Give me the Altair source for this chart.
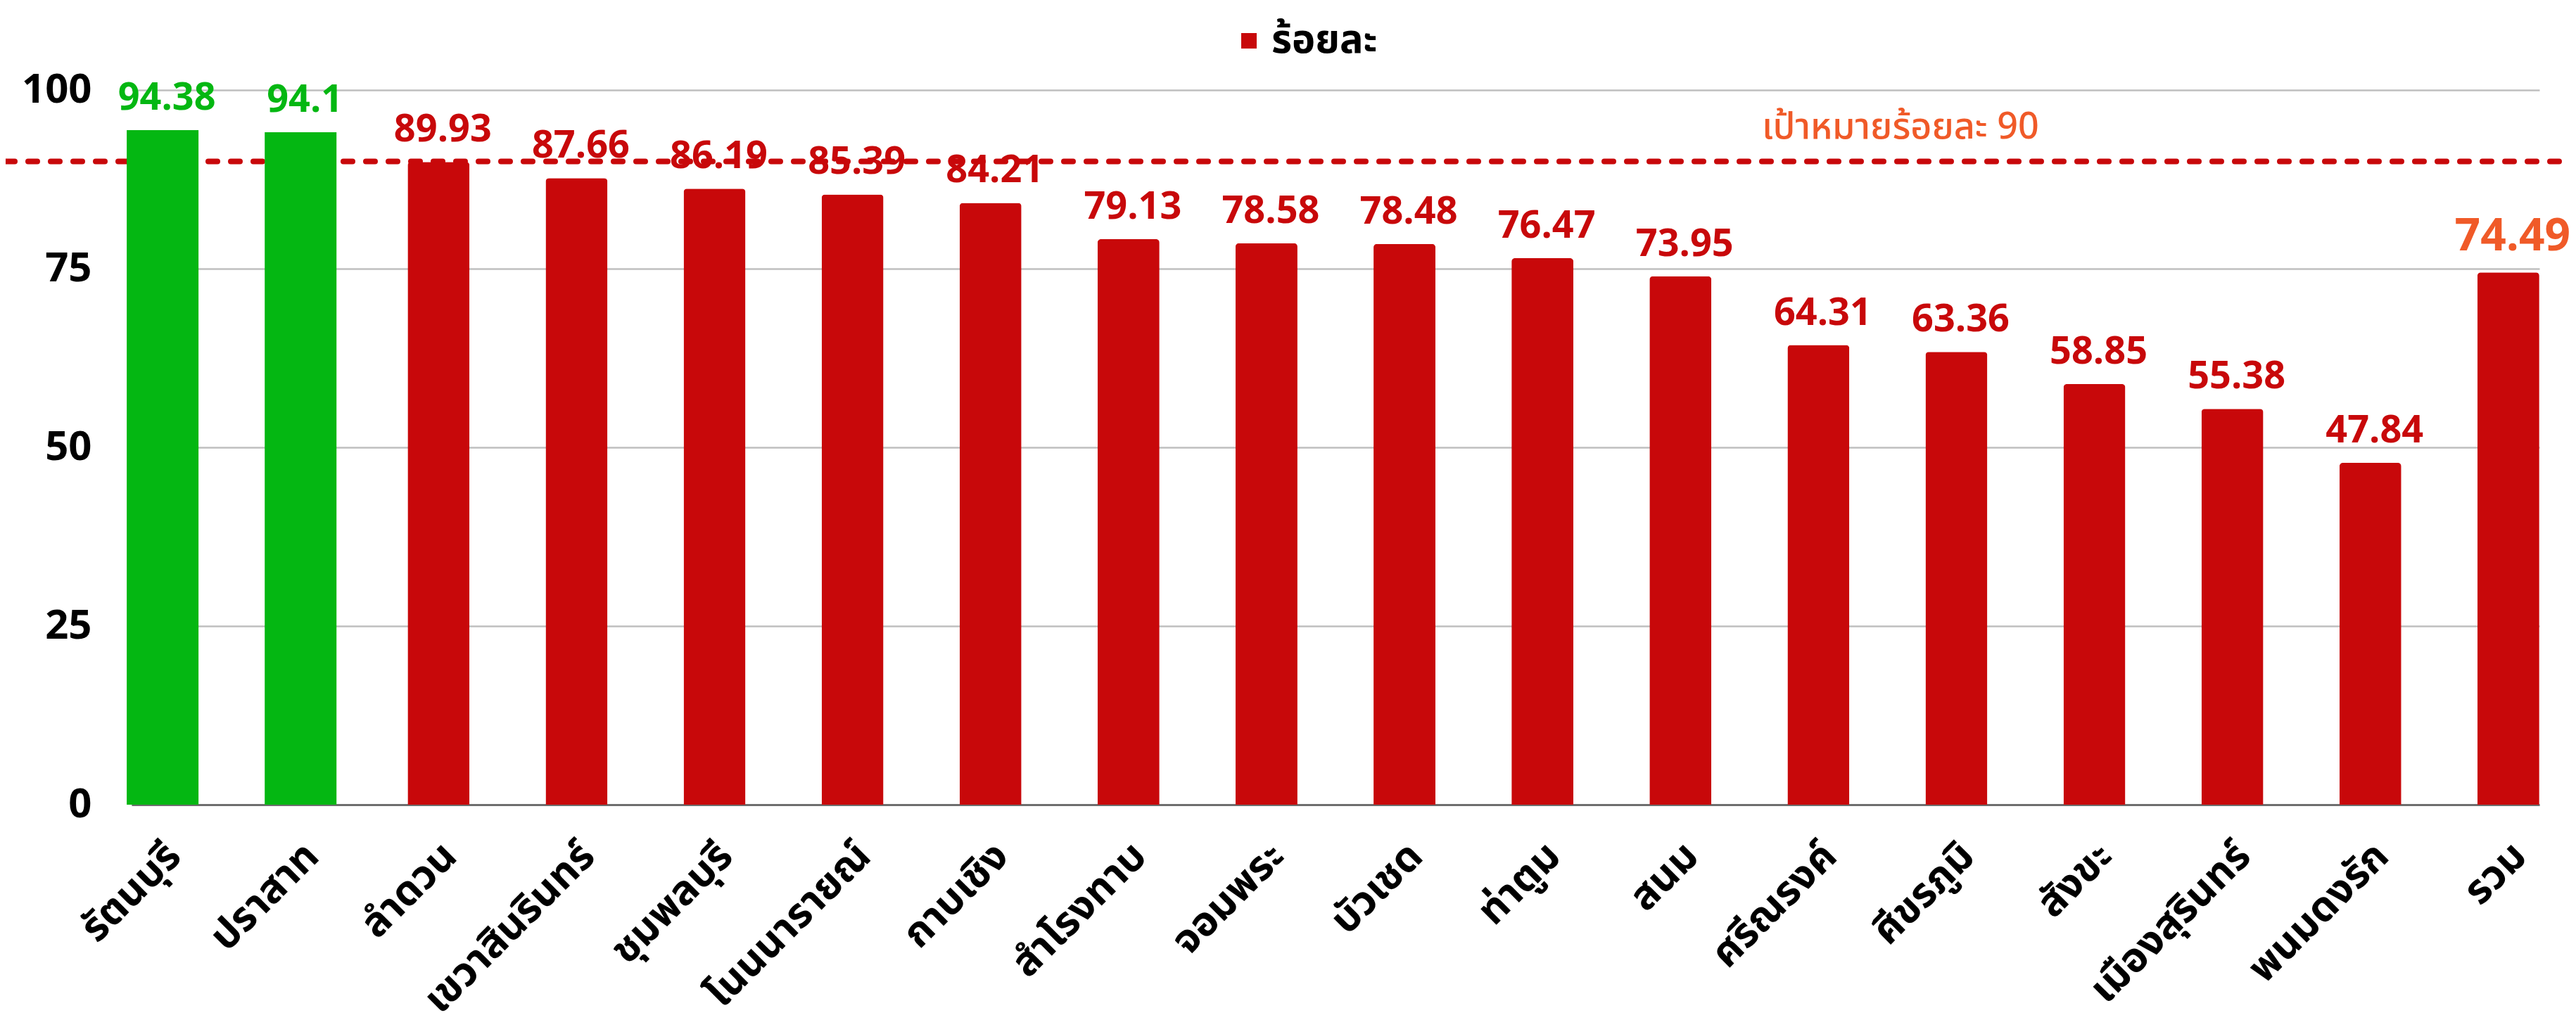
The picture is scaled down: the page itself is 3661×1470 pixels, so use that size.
import altair as alt
import pandas as pd

districts = ["รัตนบุรี", "ปราสาท", "ลำดวน", "เขวาสินรินทร์", "ชุมพลบุรี", "โนนนารายณ์",
             "กาบเชิง", "สำโรงทาบ", "จอมพระ", "บัวเชด", "ท่าตูม", "สนม", "ศรีณรงค์",
             "ศีขรภูมิ", "สังขะ", "เมืองสุรินทร์", "พนมดงรัก", "รวม"]
values = [94.38, 94.1, 89.93, 87.66, 86.19, 85.39, 84.21, 79.13, 78.58, 78.48,
          76.47, 73.95, 64.31, 63.36, 58.85, 55.38, 47.84, 74.49]
groups = ["above", "above"] + ["below"] * 15 + ["total"]
series_name = "ร้อยละ"
target_value = 90
target_label = "เป้าหมายร้อยละ 90"
y_ticks = [0, 25, 50, 75, 100]

df = pd.DataFrame({"district": districts, "value": values, "grp": groups,
                   "series": [series_name] * len(districts)})
tdf = pd.DataFrame({"target": [target_value], "label": [target_label]})

RED = "#C8080A"
GREEN = "#04B712"
ORANGE = "#F05A28"
FONT = "Noto Sans Thai, Noto Sans, sans-serif"

W, H = 3422, 1016

x_enc = alt.X("district:N", sort=districts, title=None,
              scale=alt.Scale(paddingInner=0.55, paddingOuter=0),
              axis=alt.Axis(labelAngle=-45, labelAlign="right", labelBaseline="middle",
                            labelFontSize=58, labelFontWeight="bold", labelColor="black",
                            labelFont=FONT, labelPadding=64, labelOffset=17,
                            ticks=False, grid=False,
                            domain=True, domainColor="#6E6E6E", domainWidth=3,
                            labelLimit=1000))
y_enc = alt.Y("value:Q", title=None, scale=alt.Scale(domain=[0, 100], nice=False),
              axis=alt.Axis(values=y_ticks, domain=False, ticks=False,
                            labelFontSize=58, labelFontWeight="bold", labelColor="black",
                            labelFont=FONT, labelPadding=57, gridColor="#BFBFBF",
                            gridWidth=2.5))

base = alt.Chart(df)

red_bars = base.mark_bar(size=88, cornerRadiusTopLeft=5, cornerRadiusTopRight=5).encode(
    x=x_enc, y=y_enc,
    color=alt.Color("series:N", scale=alt.Scale(domain=[series_name], range=[RED]),
                    legend=alt.Legend(title=None, orient="none", legendX=1560, legendY=-98,
                                      symbolType="square", symbolSize=484,
                                      labelFontSize=56, labelFontWeight="bold",
                                      labelColor="black", labelFont=FONT,
                                      labelLimit=1000, symbolStrokeWidth=0)))

target_rule = alt.Chart(tdf).mark_rule(color=RED, strokeWidth=8, strokeDash=[13, 19],
                                       strokeCap="round").encode(
    y=alt.Y("target:Q"), x=alt.value(-179), x2=alt.value(3466))

green_bars = base.transform_filter(alt.datum.grp == "above").mark_bar(
    size=102, color=GREEN, y2Offset=13).encode(x=x_enc, y=y_enc)

def labels(grp, color, size):
    return base.transform_filter(alt.datum.grp == grp).mark_text(
        baseline="bottom", dy=-18, dx=6, fontSize=size, fontWeight="bold",
        color=color, font=FONT).encode(x=x_enc, y=y_enc, text=alt.Text("value:Q"))

target_text = alt.Chart(tdf).mark_text(align="left", baseline="bottom", dy=-22,
                                       fontSize=52, fontWeight=500, color=ORANGE,
                                       font=FONT).encode(
    x=alt.value(2317), y=alt.Y("target:Q"), text="label:N")

chart = alt.layer(red_bars, target_rule, green_bars,
                  labels("above", GREEN, 54), labels("below", RED, 54),
                  labels("total", ORANGE, 64), target_text).properties(
    width=W, height=H,
    autosize=alt.AutoSizeParams(type="none"),
    padding={"left": 179, "top": 120, "right": 44, "bottom": 318},
    background="white",
).configure_view(stroke=None)

chart.save("out.html", embed_options={"renderer": "svg", "actions": False})
